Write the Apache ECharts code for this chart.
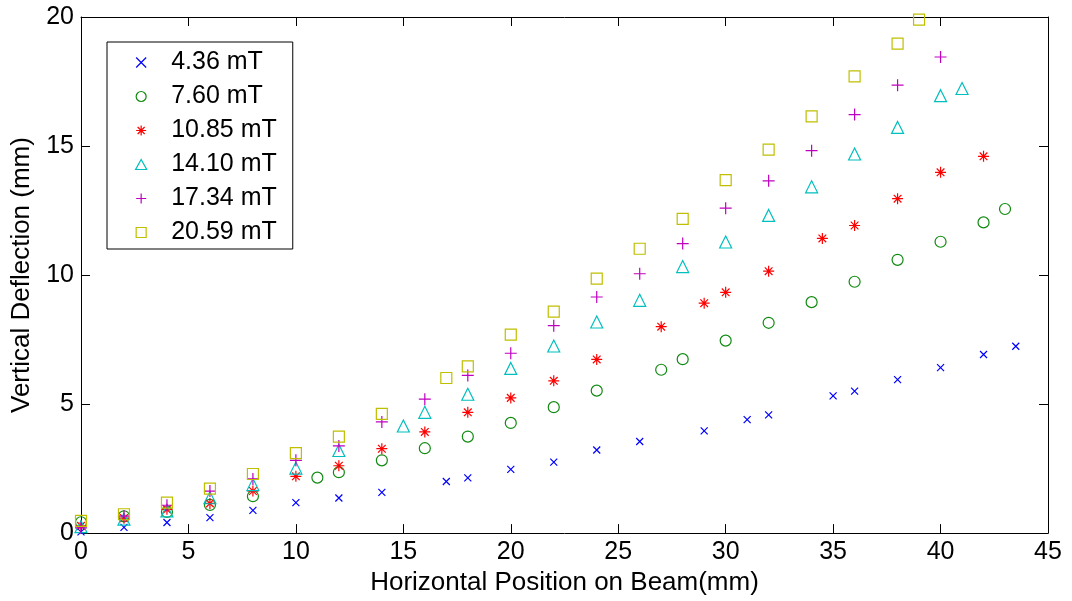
<!DOCTYPE html>
<html><head><meta charset="utf-8">
<script src="https://cdn.jsdelivr.net/npm/echarts@6/dist/echarts.min.js"></script>
<style>html,body{margin:0;padding:0;background:#fff}#c{width:1072px;height:601px}</style>
</head><body><div id="c"></div>
<script>
const seriesNames = ['4.36 mT','7.60 mT','10.85 mT','14.10 mT','17.34 mT','20.59 mT'];
const xTicks = [0,5,10,15,20,25,30,35,40,45];
const yTicks = [0,5,10,15,20];

const x436 = [0,2,4,6,8,10,12,14,17,18,20,22,24,26,29,31,32,35,36,38,40,42,43.5];
const y436 = [0.05,0.22,0.41,0.6,0.88,1.18,1.36,1.58,2.0,2.14,2.47,2.75,3.22,3.55,3.96,4.4,4.58,5.32,5.5,5.95,6.41,6.92,7.24];

const x760 = [0,2,4,6,8,11,12,14,16,18,20,22,24,27,28,30,32,34,36,38,40,42,43];
const y760 = [0.42,0.65,0.82,1.09,1.43,2.15,2.36,2.82,3.29,3.74,4.27,4.88,5.52,6.33,6.74,7.46,8.15,8.95,9.74,10.59,11.29,12.04,12.56];

const x1085 = [0,2,4,6,8,10,12,14,16,18,20,22,24,27,29,30,32,34.5,36,38,40,42];
const y1085 = [0.28,0.58,0.92,1.15,1.63,2.2,2.61,3.27,3.92,4.68,5.24,5.9,6.73,8.0,8.91,9.33,10.15,11.42,11.92,12.96,13.98,14.6];

const x1410 = [0,2,4,6,8,10,12,15,16,18,20,22,24,26,28,30,32,34,36,38,40,41];
const y1410 = [0.25,0.54,0.86,1.37,1.88,2.52,3.2,4.15,4.68,5.38,6.38,7.25,8.18,9.02,10.33,11.28,12.31,13.42,14.69,15.72,16.95,17.23];

const x1734 = [0,2,4,6,8,10,12,14,16,18,20,22,24,26,28,30,32,34,36,38,40];
const y1734 = [0.2,0.66,1.08,1.63,2.1,2.82,3.38,4.31,5.19,6.11,6.97,8.04,9.15,10.05,11.22,12.59,13.65,14.82,16.22,17.36,18.45];

const x2059 = [0,2,4,6,8,10,12,14,17,18,20,22,24,26,28,30,32,34,36,38,39];
const y2059 = [0.47,0.73,1.18,1.72,2.29,3.1,3.74,4.62,6.01,6.46,7.69,8.58,9.86,11.02,12.18,13.68,14.86,16.15,17.7,18.97,19.9];

const xs = [x436,x760,x1085,x1410,x1734,x2059];
const ys = [y436,y760,y1085,y1410,y1734,y2059];
const colors = ['#0000ff','#108a10','#ff0000','#00bfbf','#bf00bf','#bfbf00'];
const symbols = [
  'path://M0,0L10,10M10,0L0,10',
  'circle',
  'path://M5,0L5,10M0,5L10,5M1.5,1.5L8.5,8.5M8.5,1.5L1.5,8.5',
  'path://M5,0L10,9L0,9Z',
  'path://M5,0L5,10M0,5L10,5',
  'path://M0,0L10,0L10,10L0,10Z'
];
const sizes = [7,11,11,12,12,11];

const FONT = 'Liberation Sans, Arial, sans-serif';
const series = seriesNames.map((n,i)=>({
  name:n, type:'scatter', xAxisIndex:0, yAxisIndex:0,
  symbol:symbols[i], symbolSize:sizes[i],
  itemStyle:{color:'transparent', borderColor:colors[i], borderWidth:1.2, opacity:1},
  data: xs[i].map((x,j)=>[x, ys[i][j]])
}));

const chart = echarts.init(document.getElementById('c'), null, {renderer:'canvas'});
const tickStyle = {show:true, inside:true, length:9, lineStyle:{color:'#000', width:1}};
chart.setOption({
  animation:false,
  backgroundColor:'#fff',
  grid:{left:81, right:24, top:17, bottom:64, containLabel:false},
  legend:{
    show:true, orient:'vertical', left:107, top:42,
    padding:[8,16,4,28], itemGap:9, itemWidth:50, itemHeight:10,
    borderColor:'#000', borderWidth:1, backgroundColor:'#fff',
    textStyle:{fontFamily:FONT, fontSize:25, color:'#000'},
    data: seriesNames.map((n,i)=>({name:n, icon:symbols[i], itemStyle:{color:'transparent', borderColor:colors[i], borderWidth:1.2}}))
  },
  xAxis:[
    {type:'value', min:0, max:45, interval:5, position:'bottom',
     name:'Horizontal Position on Beam(mm)', nameLocation:'middle', nameGap:36,
     nameTextStyle:{fontFamily:FONT, fontSize:26, color:'#000'},
     axisLine:{show:true, onZero:false, lineStyle:{color:'#000', width:1}},
     axisTick:tickStyle, splitLine:{show:false},
     axisLabel:{fontFamily:FONT, fontSize:25, color:'#000', margin:7}},
    {type:'value', min:0, max:45, interval:5, position:'top',
     axisLine:{show:true, onZero:false, lineStyle:{color:'#000', width:1}},
     axisTick:tickStyle, splitLine:{show:false}, axisLabel:{show:false}}
  ],
  yAxis:[
    {type:'value', min:0, max:20, interval:5, position:'left',
     name:'Vertical Deflection (mm)', nameLocation:'middle', nameGap:44,
     nameTextStyle:{fontFamily:FONT, fontSize:26, color:'#000'},
     axisLine:{show:true, onZero:false, lineStyle:{color:'#000', width:1}},
     axisTick:tickStyle, splitLine:{show:false},
     axisLabel:{fontFamily:FONT, fontSize:25, color:'#000', margin:7}},
    {type:'value', min:0, max:20, interval:5, position:'right',
     axisLine:{show:true, onZero:false, lineStyle:{color:'#000', width:1}},
     axisTick:tickStyle, splitLine:{show:false}, axisLabel:{show:false}}
  ],
  series: series
});
</script></body></html>
